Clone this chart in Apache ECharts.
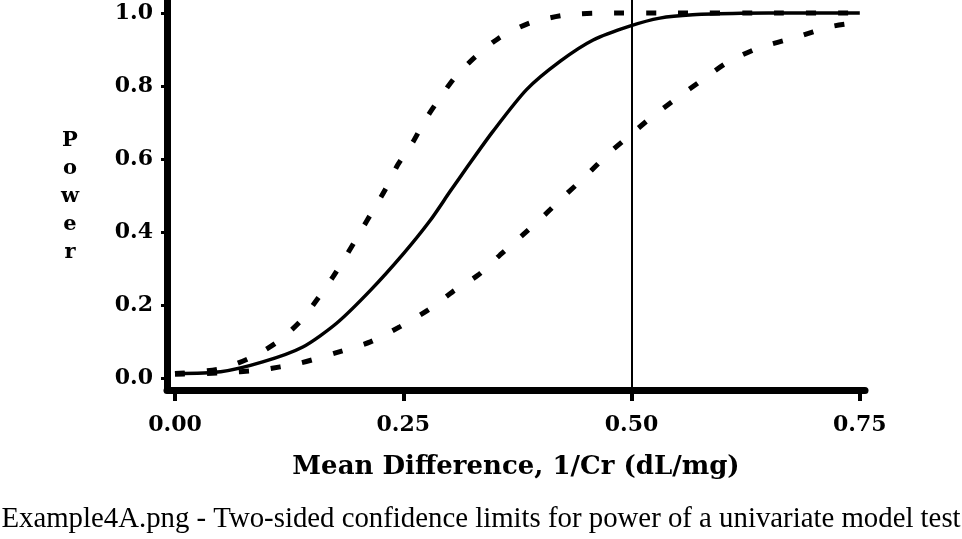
<!DOCTYPE html>
<html>
<head>
<meta charset="utf-8">
<script src="https://cdn.jsdelivr.net/npm/echarts@6/dist/echarts.min.js"></script>
<style>html,body{margin:0;padding:0;background:#fff;}#c{width:962px;height:539px;}</style>
</head>
<body>
<div id="c"></div>
<script>
// Mean difference values (x) and power (y) for each curve
const solidX = [0.00, 0.05, 0.096, 0.140, 0.177, 0.214, 0.250, 0.279, 0.301, 0.320, 0.348, 0.385, 0.422, 0.458, 0.498, 0.531, 0.567, 0.62, 0.68, 0.75];
const solidY = [0.012, 0.017, 0.044, 0.085, 0.150, 0.240, 0.340, 0.430, 0.510, 0.578, 0.675, 0.790, 0.868, 0.926, 0.964, 0.986, 0.995, 0.999, 1.0, 1.0];
const upperX = [0.00, 0.05, 0.085, 0.115, 0.139, 0.157, 0.173, 0.188, 0.203, 0.217, 0.230, 0.244, 0.260, 0.274, 0.290, 0.307, 0.329, 0.354, 0.389, 0.429, 0.473, 0.55, 0.65, 0.75];
const upperY = [0.012, 0.025, 0.058, 0.104, 0.160, 0.220, 0.277, 0.337, 0.400, 0.460, 0.515, 0.584, 0.644, 0.707, 0.767, 0.825, 0.880, 0.930, 0.973, 0.995, 1.0, 1.0, 1.0, 1.0];
const lowerX = [0.00, 0.05, 0.093, 0.137, 0.175, 0.214, 0.246, 0.277, 0.304, 0.332, 0.356, 0.380, 0.405, 0.427, 0.451, 0.473, 0.496, 0.522, 0.550, 0.577, 0.606, 0.639, 0.681, 0.717, 0.75];
const lowerY = [0.010, 0.014, 0.022, 0.041, 0.068, 0.099, 0.140, 0.186, 0.236, 0.282, 0.337, 0.390, 0.447, 0.500, 0.556, 0.611, 0.660, 0.715, 0.767, 0.816, 0.866, 0.904, 0.934, 0.962, 0.975];
const xTicks = [0, 0.25, 0.5, 0.75];
const yTicks = [0, 0.2, 0.4, 0.6, 0.8, 1.0];
const refLineX = 0.5;
const xTitle = 'Mean Difference, 1/Cr (dL/mg)';
const yTitle = 'Power';
const caption = 'Example4A.png - Two-sided confidence limits for power of a univariate model test';

const zip = (xs, ys) => xs.map((x, i) => [x, ys[i]]);
const tickFont = {fontFamily: 'DejaVu Serif', fontWeight: 'bold', fontSize: 22, color: '#000'};

const chart = echarts.init(document.getElementById('c'), null, {renderer: 'canvas'});
chart.setOption({
  animation: false,
  backgroundColor: '#fff',
  grid: {left: 167, top: 0, right: 97, bottom: 149, containLabel: false},
  xAxis: {
    type: 'value', min: -0.00876, max: 0.7557,
    axisLine: {onZero: false, lineStyle: {color: '#000', width: 7}},
    axisTick: {show: true, customValues: xTicks, length: 11, lineStyle: {color: '#000', width: 4}},
    axisLabel: Object.assign({customValues: xTicks, margin: 24, formatter: v => v.toFixed(2)}, tickFont),
    splitLine: {show: false},
    name: xTitle, nameLocation: 'middle', nameGap: 64,
    nameTextStyle: {fontFamily: 'DejaVu Serif', fontWeight: 'bold', fontSize: 26, color: '#000'}
  },
  yAxis: {
    type: 'value', min: -0.0329, max: 1.0356,
    axisLine: {onZero: false, lineStyle: {color: '#000', width: 7}},
    axisTick: {show: true, customValues: yTicks, length: 6, lineStyle: {color: '#000', width: 3}},
    axisLabel: Object.assign({customValues: yTicks, margin: 14, formatter: v => v.toFixed(1)}, tickFont),
    splitLine: {show: false}
  },
  graphic: [
    {type: 'text', left: 'center', top: 505, style: {text: caption, fontFamily: 'Liberation Serif', fontSize: 28.8, fill: '#000'}},
    {type: 'text', x: 70, y: 197, style: {text: yTitle.split('').join('\n'), fontFamily: 'DejaVu Serif', fontWeight: 'bold', fontSize: 21, lineHeight: 28, fill: '#000', align: 'center', verticalAlign: 'middle'}}
  ],
  series: [
    {type: 'line', data: zip(solidX, solidY), smooth: 0.25, showSymbol: false, lineStyle: {color: '#000', width: 3.5},
     markLine: {silent: true, symbol: 'none', label: {show: false}, lineStyle: {color: '#000', width: 2, type: 'solid'}, data: [{xAxis: refLineX}]}},
    {type: 'line', data: zip(upperX, upperY), smooth: 0.25, showSymbol: false, lineStyle: {color: '#000', width: 5, type: [10, 22]}},
    {type: 'line', data: zip(lowerX, lowerY), smooth: 0.25, showSymbol: false, lineStyle: {color: '#000', width: 5, type: [10, 22]}}
  ]
});
</script>
</body>
</html>
